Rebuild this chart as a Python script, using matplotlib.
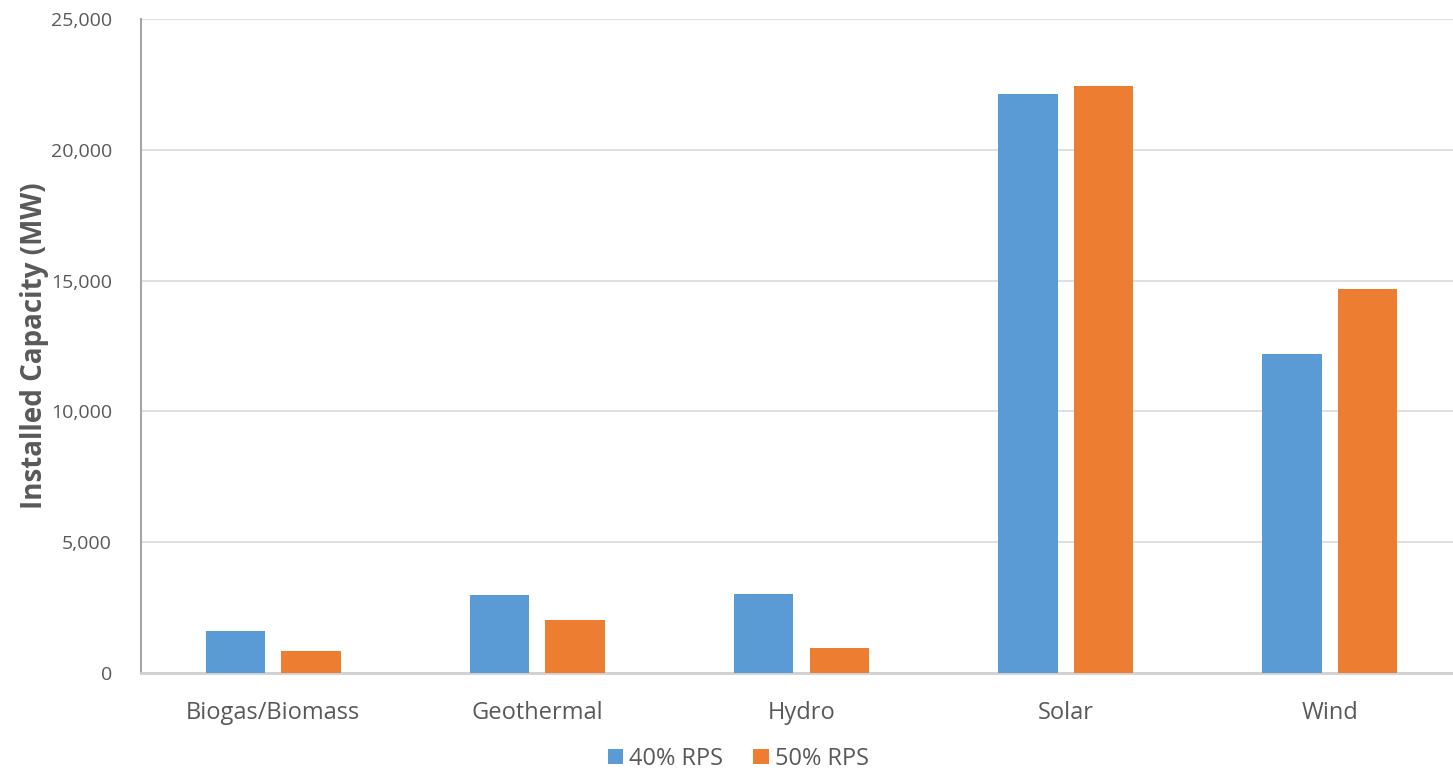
import matplotlib
matplotlib.use("Agg")
import matplotlib.pyplot as plt
import numpy as np
from matplotlib.ticker import FuncFormatter, MultipleLocator

categories = ["Biogas/Biomass", "Geothermal", "Hydro", "Solar", "Wind"]
rps40 = [1600, 3000, 3010, 22130, 12190]
rps50 = [850, 2040, 970, 22440, 14670]
series_names = ["40% RPS", "50% RPS"]
colors = ["#5B9BD5", "#ED7D31"]

plt.rcParams["font.family"] = ["Open Sans", "DejaVu Sans"]

fig = plt.figure(figsize=(14.53, 7.75), dpi=100)
ax = fig.add_axes([141 / 1453, 102 / 775, 1321 / 1453, (673 - 19) / 775])

x = np.arange(len(categories))
width = 0.225
offset = 0.143
ax.bar(x - offset, rps40, width, color=colors[0], label=series_names[0], zorder=3)
ax.bar(x + offset, rps50, width, color=colors[1], label=series_names[1], zorder=3)

ax.set_xlim(-0.5, len(categories) - 0.5)
ax.set_ylim(0, 25000)
ax.yaxis.set_major_locator(MultipleLocator(5000))
ax.yaxis.set_major_formatter(FuncFormatter(lambda v, p: f"{int(v):,}"))
ax.grid(axis="y", color="#d9d9d9", linewidth=1.2, zorder=0)
ax.set_axisbelow(True)

for s in ["top", "right"]:
    ax.spines[s].set_visible(False)
ax.spines["left"].set_color("#a6a6a6")
ax.spines["left"].set_linewidth(1.5)
ax.spines["bottom"].set_color("#d0d0d0")
ax.spines["bottom"].set_linewidth(2)

ax.set_xticks(x)
ax.set_xticklabels(categories)
ax.tick_params(axis="both", length=0, labelcolor="#595959")
ax.tick_params(axis="x", labelsize=17, pad=20)
ax.tick_params(axis="y", labelsize=14, pad=21)

ax.set_ylabel("Installed Capacity (MW)", fontsize=20, fontweight="bold",
              color="#595959")
ax.yaxis.set_label_coords(-0.070, 0.5)

leg = fig.legend(loc="lower center", bbox_to_anchor=(0.508, -0.022), ncol=2,
                 frameon=False, fontsize=17, handlelength=0.65, handleheight=0.65,
                 handletextpad=0.25, columnspacing=1.3)
for t in leg.get_texts():
    t.set_color("#595959")

fig.savefig("out.png", dpi=100)
